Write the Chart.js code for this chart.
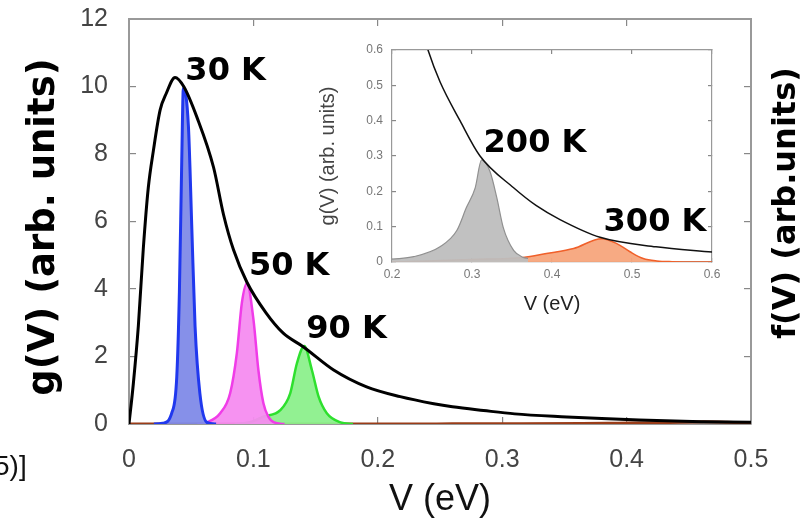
<!DOCTYPE html>
<html>
<head>
<meta charset="utf-8">
<script src="https://cdn.jsdelivr.net/npm/chart.js@4.4.1/dist/chart.umd.min.js"></script>
<style>
  html, body { margin: 0; padding: 0; background: #fff; }
  #wrap { position: relative; width: 807px; height: 520px; overflow: hidden; }
  #main { position: absolute; left: 0; top: 0; }
  #inset { position: absolute; left: 300px; top: 40px; }
</style>
</head>
<body>
<div id="wrap">
  <canvas id="main" width="807" height="520"></canvas>
  <canvas id="inset" width="430" height="280"></canvas>
</div>
<script>
// envelope g(V)
const gV   = [0, 0.0035, 0.0075, 0.0115, 0.0155, 0.0196, 0.025, 0.03, 0.037, 0.044, 0.0545, 0.068, 0.076, 0.084, 0.0948, 0.11, 0.124, 0.14, 0.1645, 0.191, 0.218, 0.245, 0.26, 0.285, 0.31, 0.352, 0.38, 0.41, 0.46, 0.53, 0.6];
const gVal = [0, 1.2, 2.9, 5.2, 7.0, 8.1, 9.3, 9.8, 10.27, 10.0, 9.1, 7.6, 6.2, 5.16, 4.2, 3.3, 2.69, 2.29, 1.6, 1.1, 0.81, 0.6, 0.51, 0.40, 0.30, 0.21, 0.16, 0.12, 0.07, 0.043, 0.028];

// f(V) at each temperature
const v30 = [0.02, 0.027, 0.0344, 0.0384, 0.0405, 0.0424, 0.0437, 0.0478, 0.0505, 0.0531, 0.057, 0.0626, 0.07];
const f30 = [0, 0.02, 0.33, 1.4, 3.9, 7.8, 9.95, 8.8, 5.8, 2.9, 0.9, 0.05, 0];
const v50 = [0.055, 0.0626, 0.0733, 0.0813, 0.0867, 0.0907, 0.0948, 0.1001, 0.104, 0.108, 0.112, 0.118, 0.125];
const f50 = [0, 0.05, 0.32, 0.91, 2.1, 3.58, 4.17, 3.08, 1.6, 0.62, 0.22, 0.03, 0];
const v90 = [0.085, 0.0974, 0.108, 0.1216, 0.1296, 0.135, 0.1409, 0.147, 0.1524, 0.159, 0.17, 0.18];
const f90 = [0, 0.05, 0.22, 0.41, 0.91, 1.8, 2.31, 1.6, 0.81, 0.32, 0.05, 0];
const v200 = [0.2, 0.227, 0.26, 0.281, 0.293, 0.304, 0.312, 0.3225, 0.331, 0.339, 0.352, 0.364, 0.37];
const f200 = [0.008, 0.015, 0.043, 0.089, 0.154, 0.21, 0.289, 0.256, 0.182, 0.098, 0.033, 0.013, 0.01];
const v300 = [0, 0.206, 0.26, 0.3, 0.364, 0.393, 0.427, 0.462, 0.481, 0.4975, 0.514, 0.531, 0.55, 0.6];
const f300 = [0, 0.001, 0.004, 0.007, 0.013, 0.024, 0.038, 0.066, 0.052, 0.029, 0.01, 0.003, 0.001, 0];

const mainLabels  = ['30 K', '50 K', '90 K'];
const insetLabels = ['200 K', '300 K'];

const pts = (xs, ys) => xs.map((x, i) => ({ x, y: ys[i] }));

function series(xs, ys, line, fill, width) {
  return {
    data: pts(xs, ys),
    borderColor: line,
    backgroundColor: fill || 'transparent',
    borderWidth: width,
    fill: fill ? 'origin' : false,
    pointRadius: 0,
    cubicInterpolationMode: 'monotone',
    xAxisID: 'x',
    yAxisID: 'y'
  };
}

// temperature tag placed just above-right of each peak maximum
const peakLabels = {
  id: 'peakLabels',
  afterDatasetsDraw(chart, args, opts) {
    const { ctx } = chart;
    const xs = chart.scales.x, ys = chart.scales.y;
    ctx.save();
    ctx.font = opts.font;
    ctx.fillStyle = '#000';
    ctx.textBaseline = 'alphabetic';
    opts.items.forEach(it => {
      const i = it.g.indexOf(Math.max(...it.g));
      ctx.fillText(it.text, xs.getPixelForValue(it.v[i]) + 2, ys.getPixelForValue(it.g[i]) - 8);
    });
    ctx.restore();
  }
};

function vText(ctx, text, x, y, font, color) {
  ctx.save();
  ctx.translate(x, y);
  ctx.rotate(-Math.PI / 2);
  ctx.font = font;
  ctx.fillStyle = color;
  ctx.textAlign = 'center';
  ctx.textBaseline = 'middle';
  ctx.fillText(text, 0, 0);
  ctx.restore();
}

function hText(ctx, text, x, y, font, color, align) {
  ctx.save();
  ctx.font = font;
  ctx.fillStyle = color;
  ctx.textAlign = align || 'center';
  ctx.textBaseline = 'middle';
  ctx.fillText(text, x, y);
  ctx.restore();
}

const mainTitles = {
  id: 'mainTitles',
  afterDraw(chart) {
    const { ctx, chartArea: a } = chart;
    vText(ctx, 'g(V) (arb. units)', 44, 227, 'bold 37px "DejaVu Sans"', '#000');
    vText(ctx, 'f(V) (arb.units)', 787, 203, 'bold 32px "DejaVu Sans"', '#000');
    hText(ctx, 'V (eV)', (a.left + a.right) / 2, 500, '36px "Liberation Sans"', '#111');
    ctx.save();
    ctx.font = '28px "Liberation Sans"';
    ctx.fillStyle = '#111';
    ctx.fillText('5)]', -6, 475);
    ctx.restore();
  }
};

const insetTitles = {
  id: 'insetTitles',
  afterDraw(chart) {
    const { ctx, chartArea: a } = chart;
    vText(ctx, 'g(V) (arb. units)', 28, (a.top + a.bottom) / 2, '20px "Liberation Sans"', '#444');
    hText(ctx, 'V (eV)', (a.left + a.right) / 2, 264, '20px "Liberation Sans"', '#222');
  }
};

// fixed box sizes so the plot area lands exactly where wanted
function pinBox(size, key) {
  return s => {
    s[key] = size;
    s.paddingTop = s.paddingBottom = s.paddingLeft = s.paddingRight = 0;
  };
}

function frameScales(o) {
  const grid = { drawOnChartArea: false, tickLength: -o.tick, color: '#888', lineWidth: 1.2 };
  const border = { color: '#999', width: o.border };
  const font = { family: 'Liberation Sans', size: o.fontSize };
  return {
    x: {
      type: 'linear', position: 'bottom', min: o.xMin, max: o.xMax,
      afterFit: pinBox(o.bottom, 'height'),
      ticks: { stepSize: o.xStep, padding: o.xPad, font, color: o.tickColor, maxRotation: 0 },
      grid, border
    },
    x2: {
      type: 'linear', position: 'top', min: o.xMin, max: o.xMax,
      afterFit: pinBox(o.top, 'height'),
      ticks: { stepSize: o.xStep, display: false },
      grid, border
    },
    y: {
      type: 'linear', position: 'left', min: o.yMin, max: o.yMax,
      afterFit: pinBox(o.left, 'width'),
      ticks: { stepSize: o.yStep, padding: o.yPad, font, color: o.tickColor },
      grid, border
    },
    y2: {
      type: 'linear', position: 'right', min: o.yMin, max: o.yMax,
      afterFit: pinBox(o.right, 'width'),
      ticks: { stepSize: o.yStep, display: false },
      grid, border
    }
  };
}

new Chart(document.getElementById('main'), {
  type: 'line',
  data: {
    datasets: [
      series(gV, gVal, '#000', null, 3),
      series(v30, f30, '#2038ee', 'rgba(128,138,232,0.95)', 3),
      series(v50, f50, '#f03ce8', 'rgba(246,140,240,0.95)', 2.5),
      series(v90, f90, '#2ee02e', 'rgba(140,240,140,0.95)', 2.5),
      series(v300, f300, '#9a3c18', null, 3)
    ]
  },
  options: {
    responsive: false,
    animation: false,
    devicePixelRatio: 1,
    layout: { padding: 0 },
    plugins: {
      legend: { display: false },
      tooltip: { enabled: false },
      peakLabels: {
        font: 'bold 32px "DejaVu Sans"',
        items: [
          { text: mainLabels[0], v: v30, g: f30 },
          { text: mainLabels[1], v: v50, g: f50 },
          { text: mainLabels[2], v: v90, g: f90 }
        ]
      }
    },
    scales: frameScales({
      xMin: 0, xMax: 0.5, xStep: 0.1, yMin: 0, yMax: 12, yStep: 2,
      left: 129, right: 56, top: 19, bottom: 96,
      tick: 7, xPad: 28, yPad: 28, fontSize: 25, tickColor: '#444', border: 2
    })
  },
  plugins: [peakLabels, mainTitles]
});

new Chart(document.getElementById('inset'), {
  type: 'line',
  data: {
    datasets: [
      series(gV, gVal, '#111', null, 1.5),
      series(v200, f200, '#909090', 'rgba(190,190,190,0.95)', 1.2),
      series(v300, f300, '#f0602a', 'rgba(247,165,124,0.95)', 1.5)
    ]
  },
  options: {
    responsive: false,
    animation: false,
    devicePixelRatio: 1,
    layout: { padding: 0 },
    plugins: {
      legend: { display: false },
      tooltip: { enabled: false },
      peakLabels: {
        font: 'bold 32px "DejaVu Sans"',
        items: [
          { text: insetLabels[0], v: v200, g: f200 },
          { text: insetLabels[1], v: v300, g: f300 }
        ]
      }
    },
    scales: frameScales({
      xMin: 0.2, xMax: 0.6, xStep: 0.1, yMin: 0, yMax: 0.6, yStep: 0.1,
      left: 92, right: 18, top: 10, bottom: 58,
      tick: 4, xPad: 9, yPad: 13, fontSize: 12, tickColor: '#777', border: 1.2
    })
  },
  plugins: [peakLabels, insetTitles]
});
</script>
</body>
</html>
